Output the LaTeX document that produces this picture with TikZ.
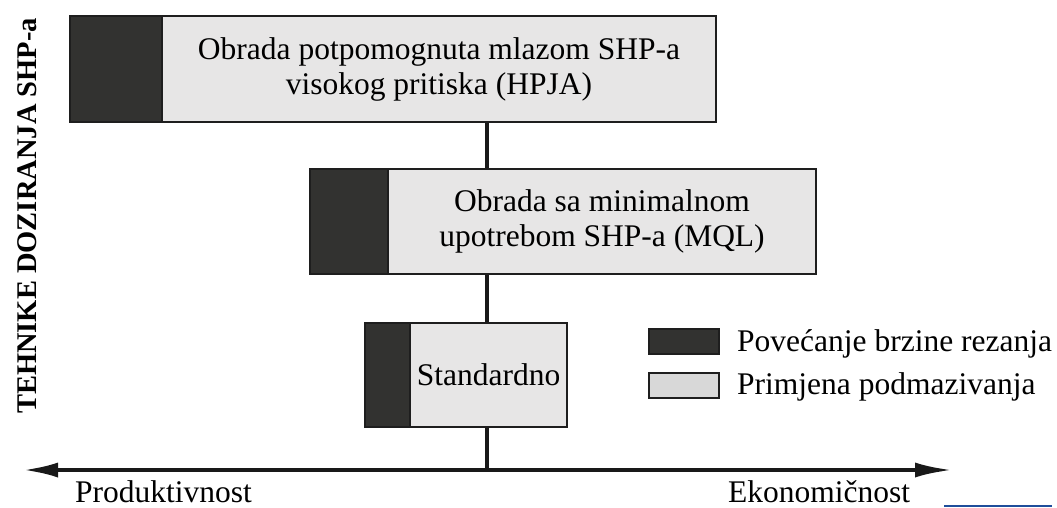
\documentclass[tikz,border=0pt]{standalone}
\usepackage{fontspec}
\setmainfont{Liberation Serif}
\usetikzlibrary{arrows.meta}
\definecolor{darkfill}{HTML}{323230}
\definecolor{lightfill}{HTML}{E7E6E6}
\definecolor{legendlight}{HTML}{D8D8D8}
\definecolor{edge}{HTML}{1E1E1E}
\definecolor{linkblue}{HTML}{1F4E9B}
\tikzset{
  darkpart/.style={draw=edge, line width=2.5pt, fill=darkfill, inner sep=0pt},
  lightpart/.style={draw=edge, line width=2.5pt, fill=lightfill, inner sep=0pt,
    font=\fontsize{31.5}{35}\selectfont, align=center},
  conn/.style={line width=4pt, draw=black!90},
  axislabel/.style={font=\fontsize{31.5}{35}\selectfont, inner sep=0pt},
  legendtext/.style={font=\fontsize{31.5}{35}\selectfont, inner sep=0pt, anchor=base west}
}
\begin{document}
\begin{tikzpicture}[x=1pt,y=-1pt]
\useasboundingbox (0,0) rectangle (1057,507);
\fill[white] (0,0) rectangle (1057,507);

% Box 1
\node[lightpart, minimum width=554pt, minimum height=106pt] (b1) at (439,69)
  {Obrada potpomognuta mlazom SHP-a\\visokog pritiska (HPJA)};
\node[darkpart, minimum width=92pt, minimum height=106pt] (d1) at (116,69) {};

% Box 2
\node[lightpart, minimum width=428pt, minimum height=105pt] (b2) at (602,221.5)
  {Obrada sa minimalnom\\upotrebom SHP-a (MQL)};
\node[darkpart, minimum width=78pt, minimum height=105pt] (d2) at (349,221.5) {};

% Box 3
\node[lightpart, minimum width=157pt, minimum height=104pt] (b3) at (488.5,375)
  {Standardno};
\node[darkpart, minimum width=45pt, minimum height=104pt] (d3) at (387.5,375) {};

% Axis
\coordinate (axL) at (23,470);
\coordinate (axR) at (952,470);
\coordinate (j) at (487,470);
\draw[conn, {Latex[length=35pt,width=15pt]}-{Latex[length=37pt,width=15pt]}] (axL) -- (axR);

% Connectors
\draw[conn] (b1.south -| j) -- (b2.north -| j);
\draw[conn] (b2.south -| j) -- (b3.north -| j);
\draw[conn] (b3.south -| j) -- (j);

% Axis labels
\node[axislabel, anchor=base west] (prod) at (75,502) {Produktivnost};
\node[axislabel, anchor=base west] (eko) at (728,502) {Ekonomičnost};

% Legend
\node[darkpart, minimum width=70pt, minimum height=25pt] (ld) at (684,341.5) {};
\node[draw=edge, line width=2.5pt, fill=legendlight, inner sep=0pt,
  minimum width=70pt, minimum height=25pt] (ll) at (684,385.5) {};
\node[legendtext] (ldt) at (737,351) {Povećanje brzine rezanja};
\node[legendtext] (llt) at (737,394) {Primjena podmazivanja};

% Vertical label
\node[font=\fontsize{28.5}{32}\selectfont\bfseries, rotate=90, inner sep=0pt] (vl) at (27,216)
  {TEHNIKE DOZIRANJA SHP-a};

% thin blue line at the bottom right
\fill[linkblue] (944,504.5) rectangle (1052,507);
\end{tikzpicture}
\end{document}
